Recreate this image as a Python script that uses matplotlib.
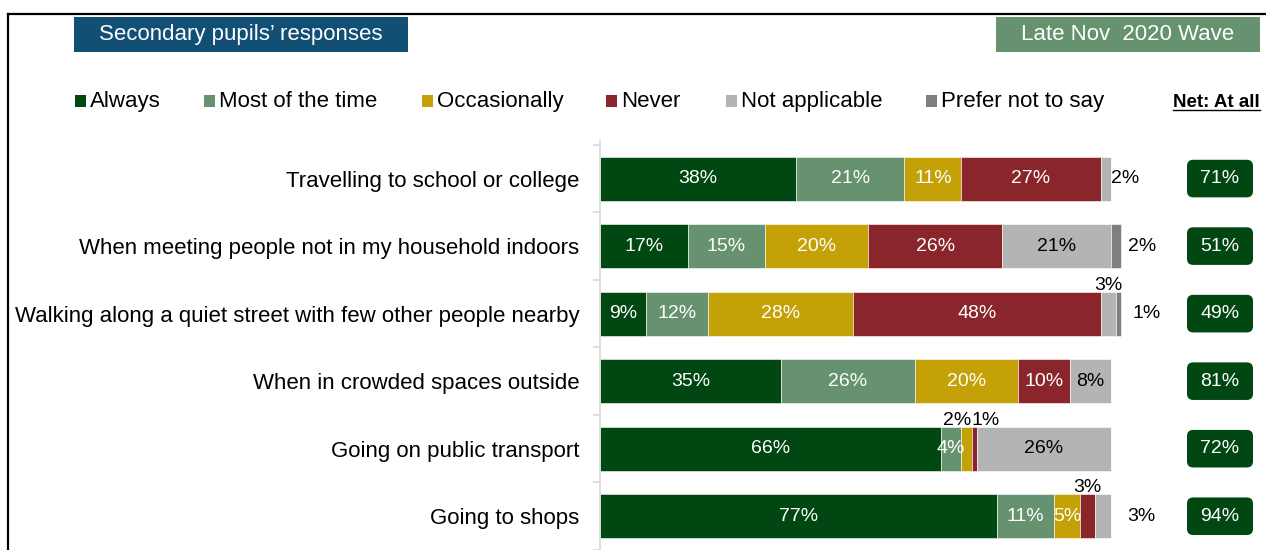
import matplotlib
matplotlib.use('Agg')
import matplotlib.pyplot as plt
from matplotlib.patches import Rectangle, FancyBboxPatch
from matplotlib.lines import Line2D

plt.rcParams['font.family'] = ['Liberation Sans', 'DejaVu Sans']

categories = ['Travelling to school or college',
              'When meeting people not in my household indoors',
              'Walking along a quiet street with few other people nearby',
              'When in crowded spaces outside',
              'Going on public transport',
              'Going to shops']
series = ['Always', 'Most of the time', 'Occasionally', 'Never',
          'Not applicable', 'Prefer not to say']
always = [38, 17, 9, 35, 66, 77]
most_of_the_time = [21, 15, 12, 26, 4, 11]
occasionally = [11, 20, 28, 20, 2, 5]
never = [27, 26, 48, 10, 1, 3]
not_applicable = [2, 21, 3, 8, 26, 3]
prefer_not_to_say = [0, 2, 1, 0, 0, 0]
net_at_all = [71, 51, 49, 81, 72, 94]

values = [always, most_of_the_time, occasionally, never,
          not_applicable, prefer_not_to_say]
colors = ['#004712', '#66926F', '#C4A106', '#8B252C', '#B4B4B4', '#7F7F7F']
text_colors = ['white', 'white', 'white', 'white', 'black', 'black']

# labels that sit outside their segment: (row, series) -> (where, dx px, ha)
outside = {(0, 4): ('right', 0, 'left'),
           (1, 5): ('right', 7, 'left'),
           (2, 4): ('above', 0, 'center'),
           (2, 5): ('right', 11, 'left'),
           (4, 2): ('above', 0, 'right'),
           (4, 3): ('above', 0, 'left'),
           (5, 3): ('above', 0, 'center'),
           (5, 4): ('right', 16, 'left')}

W, H = 1266, 550
fig = plt.figure(figsize=(W / 100, H / 100), dpi=100)

# chart area: x 0 at px 600, 5.16 px per percent
px_per_pct = 5.16
xmax = (W - 600) / px_per_pct
ax = fig.add_axes([600 / W, 0, (W - 600) / W, 410 / H])
row_h = 68.3
row0 = 179
ax.set_xlim(0, xmax)
ax.set_ylim((550 - row0) / row_h, (140 - row0) / row_h)

rows = list(range(len(categories)))
bar_h = 0.65
left = [0] * len(rows)
for s, vals in enumerate(values):
    ax.barh(rows, vals, left=left, height=bar_h, color=colors[s],
            edgecolor='white', linewidth=0.4)
    for r in rows:
        v = vals[r]
        if v == 0:
            continue
        if (r, s) in outside:
            where, dx, ha = outside[(r, s)]
            if where == 'right':
                x = left[r] + v
                y = r
                va = 'center'
                dy = 0
            else:
                if ha == 'center':
                    x = left[r] + v / 2
                elif ha == 'right':
                    x = left[r] + v
                else:
                    x = left[r]
                y = r - bar_h / 2
                va = 'baseline'
                dy = 2
            ax.annotate(f'{v}%', (x, y), xytext=(dx, dy),
                        textcoords='offset pixels', ha=ha, va=va,
                        fontsize=14, color='black', annotation_clip=False)
        else:
            ax.text(left[r] + v / 2, r, f'{v}%', ha='center', va='center',
                    fontsize=14, color=text_colors[s])
        left[r] += v

# net boxes
box_x = (1220 - 600) / px_per_pct
box_w = 66 / px_per_pct
box_hh = 38 / row_h
for r in rows:
    ax.add_patch(FancyBboxPatch((box_x - box_w / 2, r - box_hh / 2), box_w, box_hh,
                                boxstyle='round,pad=0,rounding_size=1.2',
                                mutation_aspect=px_per_pct / row_h,
                                facecolor='#004712', edgecolor='none',
                                clip_on=False))
    ax.text(box_x, r, f'{net_at_all[r]}%', ha='center', va='center',
            fontsize=14, color='white')

# axis styling
for sp in ['top', 'right', 'bottom']:
    ax.spines[sp].set_visible(False)
ax.spines['left'].set_color('#D9D9D9')
ax.spines['left'].set_linewidth(1.2)
ax.set_xticks([])
ax.set_yticks(rows)
ax.set_yticklabels(categories, fontsize=16)
ax.tick_params(axis='y', which='major', length=0, pad=15)
ax.set_yticks([r - 0.5 for r in rows] + [len(rows) - 0.5], minor=True)
ax.tick_params(axis='y', which='minor', length=5, color='#D9D9D9', width=1.2)

# frame
fy = 1 - 14 / H
fx = 8 / W
fig.add_artist(Line2D([fx, 1], [fy, fy], color='black', lw=1.6))
fig.add_artist(Line2D([fx, fx], [0, fy], color='black', lw=1.6))

# header boxes
def header(x0, x1, txt, fc):
    y0, y1 = 1 - 52 / H, 1 - 17 / H
    fig.add_artist(Rectangle((x0 / W, y0), (x1 - x0) / W, y1 - y0,
                             facecolor=fc, edgecolor='none'))
    fig.text((x0 + x1) / 2 / W, (y0 + y1) / 2, txt, ha='center', va='center',
             fontsize=16, color='white')

header(74, 408, 'Secondary pupils\u2019 responses', '#114F75')
header(996, 1260, 'Late Nov  2020 Wave', '#66926F')

# legend (text on a shared baseline so the row lines up)
ly = 1 - 101 / H
base = 1 - 107 / H
sq = 11
legend_x = [75, 204, 422, 606, 726, 926]
for s, name in enumerate(series):
    x0 = legend_x[s]
    fig.add_artist(Rectangle((x0 / W, ly - sq / 2 / H), sq / W, sq / H,
                             facecolor=colors[s], edgecolor='none'))
    fig.text((x0 + sq + 4) / W, base, name, ha='left', va='baseline', fontsize=16)

net_t = fig.text(1260 / W, base, 'Net: At all', ha='right', va='baseline',
                 fontsize=13.5, fontweight='bold')
fig.canvas.draw()
bb = net_t.get_window_extent()
uy = (bb.y0 + 1) / H
fig.add_artist(Line2D([bb.x0 / W, bb.x1 / W], [uy, uy], color='black', lw=1))

fig.savefig('out.png', dpi=100)
